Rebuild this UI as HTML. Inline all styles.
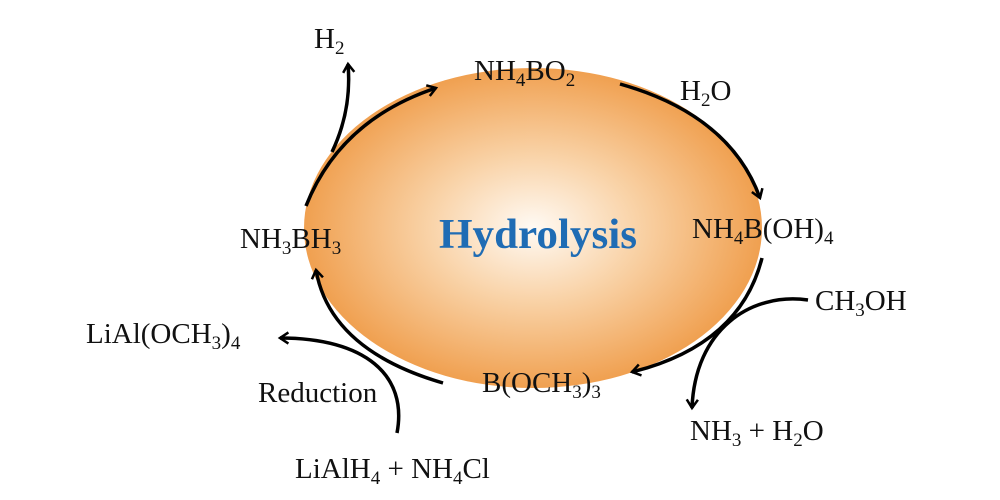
<!DOCTYPE html>
<html><head><meta charset="utf-8"><style>
html,body{margin:0;padding:0;background:#fff;}
svg{display:block;}
text{font-family:"Liberation Serif",serif;font-size:29px;fill:#111;}
</style></head><body>
<svg width="1000" height="500" viewBox="0 0 1000 500" xmlns="http://www.w3.org/2000/svg">
<defs>
<radialGradient id="g" cx="0.5" cy="0.5" r="0.5">
<stop offset="0" stop-color="#fffaf4"/>
<stop offset="0.45" stop-color="#f9d3a8"/>
<stop offset="1" stop-color="#f0a050"/>
</radialGradient>
<marker id="a" viewBox="0 0 10 10" refX="8" refY="5" markerWidth="14" markerHeight="14" orient="auto" markerUnits="userSpaceOnUse">
<path d="M2,1 L8,5 L2,9" fill="none" stroke="#000" stroke-width="1.8"/>
</marker>
</defs>
<ellipse cx="533" cy="228" rx="229" ry="160" fill="url(#g)"/>
<g fill="none" stroke="#000" stroke-width="3.5">
<path d="M306,206 Q340,120 436,88" marker-end="url(#a)"/>
<path d="M332,152 Q352,110 348,64" marker-end="url(#a)"/>
<path d="M620,84 Q730,115 760,198" marker-end="url(#a)"/>
<path d="M762,258 Q740,345 632,372" marker-end="url(#a)"/>
<path d="M808,300 C750,292 695,330 692,408" marker-end="url(#a)"/>
<path d="M443,383 Q330,350 316,270" marker-end="url(#a)"/>
<path d="M397,433 C408,375 365,338 280,338" marker-end="url(#a)"/>
</g>
<text x="439" y="248" style="font-size:42px;font-weight:bold;fill:#1f6cb4" textLength="198" lengthAdjust="spacingAndGlyphs">Hydrolysis</text>
<text x="314" y="48">H<tspan dy="6" font-size="19">2</tspan></text>
<text x="474" y="80">NH<tspan dy="6" font-size="19">4</tspan><tspan dy="-6">BO</tspan><tspan dy="6" font-size="19">2</tspan></text>
<text x="680" y="100">H<tspan dy="6" font-size="19">2</tspan><tspan dy="-6">O</tspan></text>
<text x="240" y="248">NH<tspan dy="6" font-size="19">3</tspan><tspan dy="-6">BH</tspan><tspan dy="6" font-size="19">3</tspan></text>
<text x="692" y="238">NH<tspan dy="6" font-size="19">4</tspan><tspan dy="-6">B(OH)</tspan><tspan dy="6" font-size="19">4</tspan></text>
<text x="815" y="310">CH<tspan dy="6" font-size="19">3</tspan><tspan dy="-6">OH</tspan></text>
<text x="86" y="343">LiAl(OCH<tspan dy="6" font-size="19">3</tspan><tspan dy="-6">)</tspan><tspan dy="6" font-size="19">4</tspan></text>
<text x="258" y="402">Reduction</text>
<text x="482" y="392">B(OCH<tspan dy="6" font-size="19">3</tspan><tspan dy="-6">)</tspan><tspan dy="6" font-size="19">3</tspan></text>
<text x="690" y="440">NH<tspan dy="6" font-size="19">3</tspan><tspan dy="-6"> + H</tspan><tspan dy="6" font-size="19">2</tspan><tspan dy="-6">O</tspan></text>
<text x="295" y="478">LiAlH<tspan dy="6" font-size="19">4</tspan><tspan dy="-6"> + NH</tspan><tspan dy="6" font-size="19">4</tspan><tspan dy="-6">Cl</tspan></text>
</svg>
</body></html>
